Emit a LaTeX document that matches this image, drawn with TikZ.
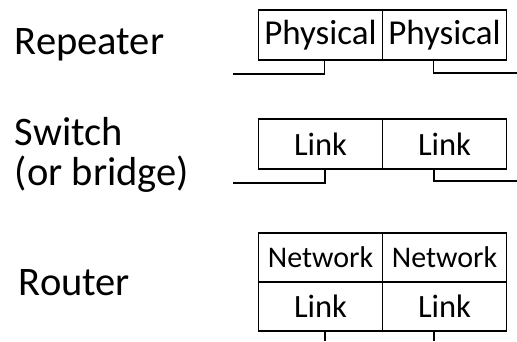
\documentclass[tikz,border=0pt]{standalone}
\usepackage{fontspec}
\setmainfont{Carlito}
\usetikzlibrary{positioning, calc}

\begin{document}
\begin{tikzpicture}[x=1pt, y=-1pt, line width=1.1pt,
  layerbox/.style={draw, minimum width=124pt, minimum height=50pt, inner sep=0pt,
    outer sep=0pt, font=\fontsize{35}{36}\selectfont},
  devlabel/.style={anchor=base west, align=left, font=\fontsize{40.5}{40}\selectfont}]
\useasboundingbox (0,0) rectangle (517,341);

% device names
\node[devlabel] (rep) at (11,54) {Repeater};
\node[devlabel] (sw) at (11,185) {Switch\\(or bridge)};
\node[devlabel] (rt) at (15,295) {Router};

% repeater: physical layer only
\node[layerbox] (phyA) at (320.5,35) {Physical};
\node[layerbox, right=0pt of phyA] (phyB) {Physical};
\coordinate (inA) at (233,74);
\coordinate (outA) at (517,73);
\draw (inA) -| ([xshift=4pt]phyA.south);
\draw ([xshift=-11pt]phyB.south) |- (outA);

% switch: link layer
\node[layerbox, font=\fontsize{32.5}{36}\selectfont] (lnkA) at (320.5,144) {Link};
\node[layerbox, font=\fontsize{32.5}{36}\selectfont, right=0pt of lnkA] (lnkB) {Link};
\coordinate (inB) at (233,183);
\coordinate (outB) at (517,181);
\draw (inB) -| ([xshift=4.5pt]lnkA.south);
\draw ([xshift=-10.5pt]lnkB.south) |- (outB);

% router: network over link
\node[layerbox, minimum height=49pt, font=\fontsize{30}{36}\selectfont] (netA) at (320.5,257.5) {Network};
\node[layerbox, minimum height=49pt, font=\fontsize{30}{36}\selectfont, right=0pt of netA] (netB) {Network};
\node[layerbox, minimum height=49pt, font=\fontsize{32.5}{36}\selectfont, below=0pt of netA] (lnkC) {Link};
\node[layerbox, minimum height=49pt, font=\fontsize{32.5}{36}\selectfont, below=0pt of netB] (lnkD) {Link};
\coordinate (downA) at (325,341);
\coordinate (downB) at (434,341);
\draw (downA |- lnkC.south) -- (downA);
\draw (downB |- lnkD.south) -- (downB);
\end{tikzpicture}
\end{document}
